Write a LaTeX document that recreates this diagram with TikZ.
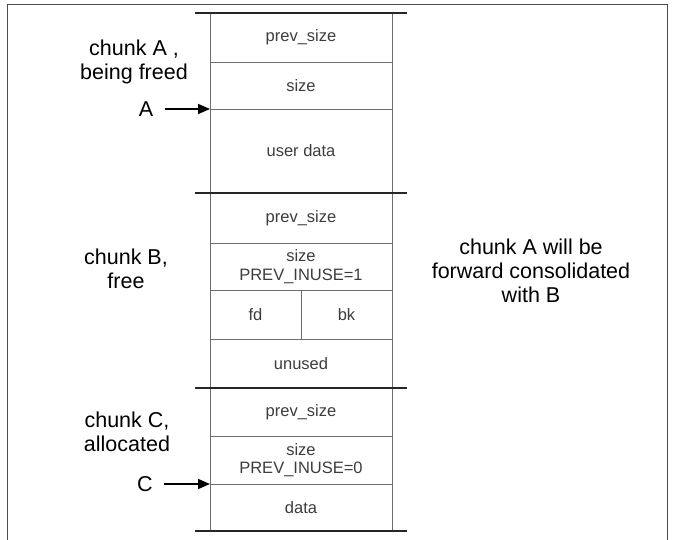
\documentclass[tikz,border=0pt]{standalone}
\usepackage{fontspec}
\setmainfont{Liberation Sans}
\usetikzlibrary{arrows.meta, positioning, calc}
\definecolor{edgegray}{HTML}{6e6e6e}
\definecolor{inkgray}{HTML}{3c3c3c}

\begin{document}
\begin{tikzpicture}[
  x=1pt, y=-1pt,
  cell/.style={draw=edgegray, line width=0.8pt, minimum width=182pt,
    inner sep=0pt, outer sep=0pt, align=center, text=inkgray,
    font=\fontsize{16.5}{18.5}\selectfont},
  half/.style={cell, minimum width=91pt},
  sep/.style={line width=1.8pt, black!85},
  lbl/.style={font=\fontsize{21.5}{24}\selectfont, align=center},
  ptr/.style={-{Triangle[length=12pt, width=10pt]}, line width=1.6pt, shorten <=8pt},
  frame/.style={line width=1pt, black!70},
]
  \useasboundingbox (0,0) rectangle (675,540);
  \draw[frame] (7,541) -- (7,5) -- (667,5) -- (667,541);

  % chunk A
  \node[cell, minimum height=49pt, anchor=north] (prevA) at (301,13) {prev\_size};
  \node[cell, minimum height=47pt, below=0pt of prevA] (sizeA) {size};
  \node[cell, minimum height=84pt, below=0pt of sizeA] (userA) {user data};

  % chunk B
  \node[cell, minimum height=50pt, below=0pt of userA] (prevB) {prev\_size};
  \node[cell, minimum height=47pt, below=0pt of prevB] (sizeB) {size\\PREV\_INUSE=1};
  \node[half, minimum height=49pt, anchor=north west] (fdB) at (sizeB.south west) {fd};
  \node[half, minimum height=49pt, anchor=north west] (bkB) at (fdB.north east) {bk};
  \node[cell, minimum height=49pt, anchor=north] (unusedB) at (fdB.south east) {unused};

  % chunk C
  \node[cell, minimum height=48pt, below=0pt of unusedB] (prevC) {prev\_size};
  \node[cell, minimum height=48pt, below=0pt of prevC] (sizeC) {size\\PREV\_INUSE=0};
  \node[cell, minimum height=47pt, below=0pt of sizeC] (dataC) {data};

  % chunk boundaries
  \foreach \c in {prevA, prevB, prevC}
    \draw[sep] ($(\c.north west)+(-15,0)$) -- ($(\c.north east)+(15,0)$);
  \draw[sep] ($(dataC.south west)+(-15,0)$) -- ($(dataC.south east)+(15,0)$);

  % labels and pointers
  \node[lbl] (chunkA) at (134,62) {chunk A ,\\being freed};
  \node[lbl] (ptrA) at (146,109) {A};
  \draw[ptr] (ptrA) -- (userA.north west);
  \node[lbl] (chunkB) at (126,269) {chunk B,\\free};
  \node[lbl] (chunkC) at (127,432) {chunk C,\\allocated};
  \node[lbl] (ptrC) at (145,484) {C};
  \draw[ptr] (ptrC) -- (dataC.north west);
  \node[lbl] (note) at (531,271) {chunk A will be\\forward consolidated\\with B};
\end{tikzpicture}
\end{document}
